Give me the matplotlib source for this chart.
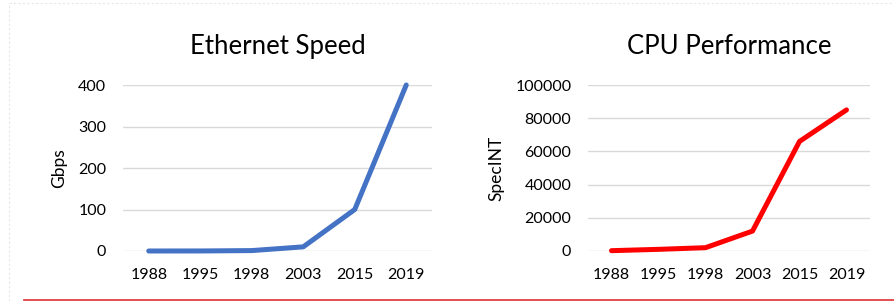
import numpy as np
import matplotlib.pyplot as plt

years = ["1988", "1995", "1998", "2003", "2015", "2019"]
ethernet_gbps = [0.01, 0.1, 1, 10, 100, 400]
cpu_specint = [200, 1000, 2000, 12000, 66000, 85000]

plt.rcParams['font.family'] = ['Lato', 'DejaVu Sans']

fig = plt.figure(figsize=(8.94, 3.01), dpi=100)


def style_axes(ax, title, ylabel, ymax, ystep):
    for s in ax.spines.values():
        s.set_visible(False)
    ax.set_xlim(-0.5, len(years) - 0.5)
    ax.set_ylim(0, ymax)
    ax.set_yticks(np.arange(0, ymax + 1, ystep))
    ax.set_xticks(range(len(years)))
    ax.set_xticklabels(years)
    ax.tick_params(axis='x', length=0, labelsize=11.5, colors='black', pad=12)
    ax.tick_params(axis='y', length=0, labelsize=11.5, colors='black', pad=12)
    ax.yaxis.grid(True, color='#D9D9D9', linewidth=1)
    ax.set_axisbelow(True)
    ax.set_ylabel(ylabel, fontsize=12.5, labelpad=8)
    ax.set_title(title, fontsize=18.5, pad=22)


ax1 = fig.add_axes([123 / 894, 1 - 251 / 301, (432 - 123) / 894, (251 - 85) / 301])
ax1.plot(range(len(years)), ethernet_gbps, color='#4472C4', linewidth=3.6,
         solid_capstyle='round', solid_joinstyle='round', clip_on=False)
style_axes(ax1, "Ethernet Speed", "Gbps", 400, 100)

ax2 = fig.add_axes([588 / 894, 1 - 251 / 301, (870 - 588) / 894, (251 - 85) / 301])
ax2.plot(range(len(years)), cpu_specint, color='#FF0000', linewidth=3.6,
         solid_capstyle='round', solid_joinstyle='round', clip_on=False)
style_axes(ax2, "CPU Performance", "SpecINT", 100000, 20000)

# slide decorations: dotted frame and red rule
fig.add_artist(plt.Line2D([9 / 894, 1], [1 - 3 / 301, 1 - 3 / 301], color='#E6E6E6',
                          linewidth=0.8, linestyle=(0, (2, 2))))
fig.add_artist(plt.Line2D([9 / 894, 9 / 894], [0, 1 - 3 / 301], color='#E6E6E6',
                          linewidth=0.8, linestyle=(0, (2, 2))))
fig.add_artist(plt.Line2D([24 / 894, 1], [1.2 / 301, 1.2 / 301], color='#E03030',
                          linewidth=1.2))

fig.savefig("out.png", dpi=100)
